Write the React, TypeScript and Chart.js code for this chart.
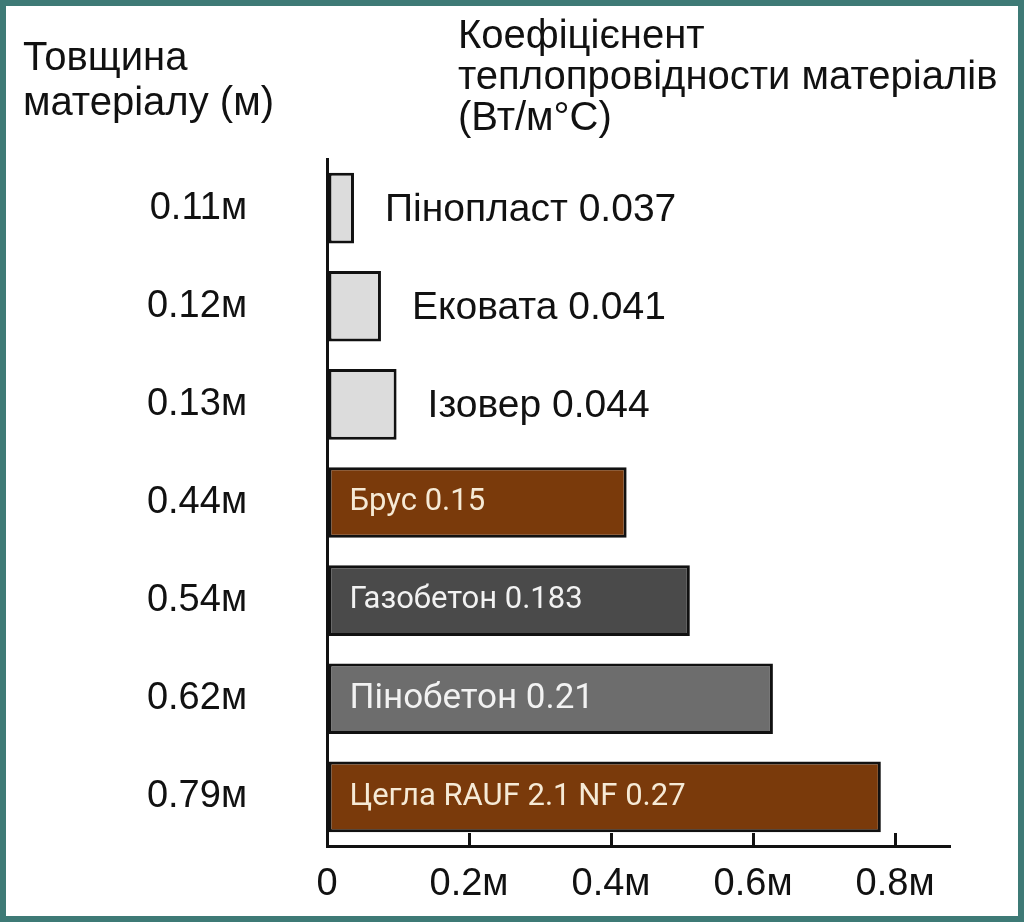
import React, { useEffect, useRef } from 'react';
import { Chart, registerables } from 'chart.js';

Chart.register(...registerables);

// Data
const materials = ['Пінопласт', 'Ековата', 'Ізовер', 'Брус', 'Газобетон', 'Пінобетон', 'Цегла RAUF 2.1 NF'];
const conductivity = ['0.037', '0.041', '0.044', '0.15', '0.183', '0.21', '0.27'];
const thicknessLabels = ['0.11м', '0.12м', '0.13м', '0.44м', '0.54м', '0.62м', '0.79м'];
const barLengths = [0.038, 0.076, 0.098, 0.422, 0.511, 0.628, 0.78];
const xTickLabels = ['0', '0.2м', '0.4м', '0.6м', '0.8м'];

const barColors = ['#dcdcdc', '#dcdcdc', '#dcdcdc', '#7a3a0b', '#4a4a4a', '#6d6d6d', '#7a3a0b'];
const insideTextColors = ['#111', '#111', '#111', '#f6ead6', '#f2f2f2', '#f2f2f2', '#f6ead6'];
const insideFontSizes = [31, 31, 31, 31, 31, 35, 31];

const INK = '#111';
const SANS = '"Liberation Sans", Arial, sans-serif';

// writes "material value" inside the bar when it fits, otherwise right of it
const barLabelPlugin = {
  id: 'barLabels',
  afterDatasetsDraw(chart: any) {
    const ctx = chart.ctx;
    const meta = chart.getDatasetMeta(0);
    meta.data.forEach((bar: any, i: number) => {
      const text = `${materials[i]} ${conductivity[i]}`;
      ctx.save();
      ctx.textBaseline = 'middle';
      ctx.textAlign = 'left';
      ctx.font = `${insideFontSizes[i]}px Roboto`;
      const w = ctx.measureText(text).width;
      if (bar.x - bar.base > w + 40) {
        ctx.fillStyle = insideTextColors[i];
        ctx.fillText(text, bar.base + 21, bar.y);
      } else {
        ctx.font = `39px ${SANS}`;
        ctx.fillStyle = INK;
        ctx.fillText(text, bar.x + 31, bar.y + 2);
      }
      ctx.restore();
    });
  }
};

const ConductivityChart: React.FC = () => {
  const canvasRef = useRef<HTMLCanvasElement>(null);
  const chartRef = useRef<Chart | null>(null);

  useEffect(() => {
    if (!canvasRef.current) return;
    if (chartRef.current) chartRef.current.destroy();

    chartRef.current = new Chart(canvasRef.current, {
      type: 'bar',
      data: {
        labels: thicknessLabels,
        datasets: [
          {
            data: barLengths,
            backgroundColor: barColors,
            borderColor: INK,
            borderWidth: 3,
            borderSkipped: false,
            barPercentage: 0.72,
            categoryPercentage: 1
          }
        ]
      },
      options: {
        indexAxis: 'y',
        responsive: false,
        animation: false,
        layout: { padding: { top: 159, right: 75, left: 0, bottom: 0 } },
        plugins: {
          legend: { display: false },
          tooltip: { enabled: false }
        },
        scales: {
          x: {
            min: 0,
            max: 0.876,
            grid: {
              drawOnChartArea: false,
              drawTicks: true,
              tickLength: -13,
              color: INK,
              lineWidth: 3
            },
            border: { color: INK, width: 3 },
            ticks: {
              stepSize: 0.2,
              includeBounds: false,
              maxRotation: 0,
              autoSkip: false,
              padding: 29,
              color: INK,
              font: { family: SANS, size: 38 },
              callback: (_v: any, index: number) => xTickLabels[index]
            },
            afterFit: (scale: any) => {
              scale.height = 76;
              scale.paddingLeft = 0;
              scale.paddingRight = 0;
            }
          },
          y: {
            grid: { drawOnChartArea: false, drawTicks: false },
            border: { color: INK, width: 3 },
            ticks: {
              padding: 80,
              color: INK,
              font: { family: SANS, size: 38 }
            },
            afterFit: (scale: any) => {
              scale.width = 327;
              scale.paddingTop = 0;
              scale.paddingBottom = 0;
            }
          }
        }
      },
      plugins: [barLabelPlugin]
    });

    return () => {
      if (chartRef.current) {
        chartRef.current.destroy();
        chartRef.current = null;
      }
    };
  }, []);

  return <canvas ref={canvasRef} width={1024} height={922} style={{ position: 'absolute', left: 0, top: 0 }} />;
};

const App: React.FC = () => {
  const titleStyle: React.CSSProperties = {
    position: 'absolute',
    fontFamily: SANS,
    color: INK,
    whiteSpace: 'nowrap'
  };

  return (
    <div style={{ position: 'fixed', left: 0, top: 0, width: 1024, height: 922, background: '#fff', overflow: 'hidden' }}>
      <ConductivityChart />
      <div style={{ ...titleStyle, left: 23, top: 34, fontSize: 40, lineHeight: '44.5px' }}>
        Товщина
        <br />
        матеріалу (м)
      </div>
      <div style={{ ...titleStyle, left: 458, top: 14, fontSize: 40, lineHeight: '41px' }}>
        Коефіцієнент
        <br />
        теплопровідности матеріалів
        <br />
        (Вт/м°С)
      </div>
      <div
        style={{
          position: 'absolute',
          left: 0,
          top: 0,
          width: 1024,
          height: 922,
          boxSizing: 'border-box',
          border: '6px solid #3e7a76',
          pointerEvents: 'none'
        }}
      />
    </div>
  );
};

export default App;
